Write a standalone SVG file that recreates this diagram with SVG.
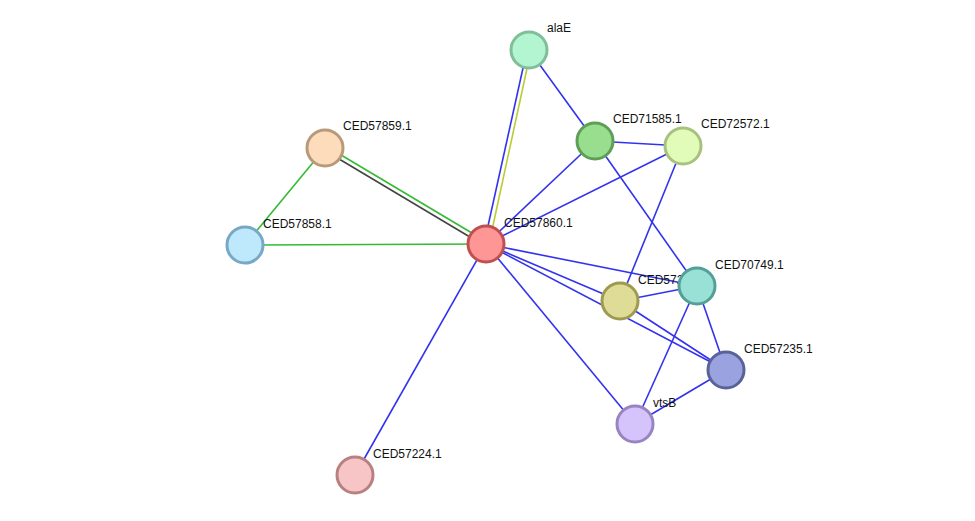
<svg xmlns="http://www.w3.org/2000/svg" width="975" height="521" viewBox="0 0 975 521">
<style>
.b{stroke:#3333ee;stroke-width:1.6;fill:none}
.g{stroke:#33bb33;stroke-width:1.6;fill:none}
.k{stroke:#444;stroke-width:1.6;fill:none}
.y{stroke:#bbcc33;stroke-width:1.6;fill:none}
circle{stroke-width:3}
text{font-family:"Liberation Sans",Arial,sans-serif;font-size:12px;fill:#111}
</style>
<rect width="975" height="521" fill="#fff"/>
<g id="connectors">
<line class="b" x1="484" y1="244" x2="527" y2="50"/>
<line class="y" x1="489" y1="244" x2="531" y2="50"/>
<line class="b" x1="529" y1="50" x2="595" y2="141"/>
<line class="b" x1="486" y1="244" x2="595" y2="141"/>
<line class="b" x1="486" y1="244" x2="683" y2="146"/>
<line class="b" x1="595" y1="141" x2="683" y2="146"/>
<line class="b" x1="595" y1="141" x2="697" y2="286"/>
<line class="b" x1="683" y1="146" x2="620" y2="301"/>
<line class="b" x1="486" y1="244" x2="697" y2="286"/>
<line class="b" x1="486" y1="244" x2="620" y2="301"/>
<line class="b" x1="486" y1="244" x2="726" y2="370"/>
<line class="b" x1="620" y1="301" x2="726" y2="370"/>
<line class="b" x1="620" y1="301" x2="697" y2="286"/>
<line class="b" x1="697" y1="286" x2="726" y2="370"/>
<line class="b" x1="697" y1="286" x2="635" y2="424"/>
<line class="b" x1="726" y1="370" x2="635" y2="424"/>
<line class="b" x1="486" y1="244" x2="635" y2="424"/>
<line class="b" x1="486" y1="244" x2="355" y2="475"/>
<line class="g" x1="325" y1="148" x2="245" y2="245"/>
<line class="g" x1="245" y1="245" x2="486" y2="244"/>
<line class="g" x1="326" y1="146" x2="487" y2="242"/>
<line class="k" x1="324" y1="150" x2="485" y2="246"/>
</g>
<g id="alaE"><circle cx="529" cy="50" r="18" fill="#b3f5d0" stroke="#7fbf99"/><text x="547" y="32">alaE</text></g>
<g id="CED71585.1"><circle cx="595" cy="141" r="18" fill="#99dd8f" stroke="#5f9e55"/><text x="613" y="123">CED71585.1</text></g>
<g id="CED72572.1"><circle cx="683" cy="146" r="18" fill="#e0fcb8" stroke="#a8c17f"/><text x="701" y="128">CED72572.1</text></g>
<g id="CED57859.1"><circle cx="325" cy="148" r="18" fill="#fddcbc" stroke="#b89a7a"/><text x="343" y="130">CED57859.1</text></g>
<g id="CED57858.1"><circle cx="245" cy="245" r="18" fill="#bee8fb" stroke="#78a8c5"/><text x="263" y="228">CED57858.1</text></g>
<g id="CED57860.1"><circle cx="486" cy="244" r="18" fill="#fe9696" stroke="#c05050"/><text x="504" y="227">CED57860.1</text></g>
<g id="CED57xxx"><text x="638" y="284">CED57236.1</text><circle cx="620" cy="301" r="18" fill="#dedc96" stroke="#9e9a50"/></g>
<g id="CED70749.1"><circle cx="697" cy="286" r="18" fill="#99e0d6" stroke="#55a096"/><text x="715" y="269">CED70749.1</text></g>
<g id="CED57235.1"><circle cx="726" cy="370" r="18" fill="#9aa3df" stroke="#5a6398"/><text x="744" y="353">CED57235.1</text></g>
<g id="vtsB"><circle cx="635" cy="424" r="18" fill="#d5c3fc" stroke="#9884c0"/><text x="653" y="407">vtsB</text></g>
<g id="CED57224.1"><circle cx="355" cy="475" r="18" fill="#f7c5c5" stroke="#b88080"/><text x="373" y="458">CED57224.1</text></g>
</svg>
